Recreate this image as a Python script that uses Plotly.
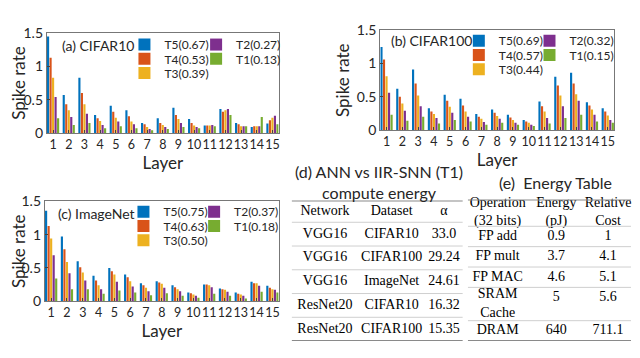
import plotly.graph_objects as go

W, H = 624, 342
OFF = 8  # the page body adds an 8px margin around the plot div

layers = list(range(1, 16))
steps = ["T5", "T4", "T3", "T2", "T1"]
step_colors = ["#0072BD", "#D95319", "#EDB120", "#7E2F8E", "#77AC30"]

# (a) CIFAR10 spike rate per layer
c10_mean = [0.67, 0.53, 0.39, 0.27, 0.13]
c10_t5 = [1.45, 0.57, 0.83, 0.27, 0.41, 0.34, 0.15, 0.22, 0.38, 0.21, 0.11, 0.36, 0.15, 0.09, 0.14]
c10_t4 = [1.13, 0.43, 0.60, 0.22, 0.32, 0.25, 0.13, 0.15, 0.27, 0.15, 0.11, 0.32, 0.13, 0.10, 0.19]
c10_t3 = [0.83, 0.34, 0.43, 0.18, 0.23, 0.17, 0.09, 0.12, 0.21, 0.11, 0.11, 0.34, 0.10, 0.10, 0.23]
c10_t2 = [0.54, 0.24, 0.29, 0.12, 0.17, 0.13, 0.06, 0.09, 0.15, 0.09, 0.12, 0.36, 0.10, 0.10, 0.26]
c10_t1 = [0.22, 0.12, 0.15, 0.07, 0.10, 0.07, 0.04, 0.06, 0.09, 0.07, 0.10, 0.27, 0.10, 0.24, 0.13]

# (b) CIFAR100
c100_mean = [0.69, 0.57, 0.44, 0.32, 0.15]
c100_t5 = [1.25, 0.62, 0.91, 0.33, 0.53, 0.47, 0.24, 0.31, 0.23, 0.15, 0.43, 0.80, 0.86, 0.42, 0.33]
c100_t4 = [1.06, 0.50, 0.70, 0.28, 0.44, 0.37, 0.20, 0.26, 0.19, 0.13, 0.36, 0.67, 0.70, 0.37, 0.28]
c100_t3 = [0.81, 0.40, 0.52, 0.24, 0.35, 0.28, 0.17, 0.21, 0.15, 0.11, 0.28, 0.52, 0.54, 0.31, 0.22]
c100_t2 = [0.56, 0.29, 0.36, 0.18, 0.26, 0.20, 0.12, 0.17, 0.11, 0.08, 0.18, 0.36, 0.44, 0.23, 0.15]
c100_t1 = [0.23, 0.14, 0.20, 0.10, 0.15, 0.13, 0.08, 0.11, 0.08, 0.06, 0.10, 0.18, 0.23, 0.13, 0.11]

# (c) ImageNet
inet_mean = [0.75, 0.63, 0.50, 0.37, 0.18]
inet_t5 = [1.36, 0.97, 0.60, 0.38, 0.50, 0.40, 0.27, 0.30, 0.24, 0.13, 0.25, 0.19, 0.13, 0.29, 0.23]
inet_t4 = [1.13, 0.78, 0.51, 0.31, 0.45, 0.36, 0.24, 0.28, 0.21, 0.12, 0.25, 0.18, 0.11, 0.27, 0.20]
inet_t3 = [0.94, 0.59, 0.43, 0.24, 0.40, 0.30, 0.20, 0.26, 0.18, 0.10, 0.24, 0.17, 0.10, 0.27, 0.18]
inet_t2 = [0.69, 0.42, 0.31, 0.18, 0.29, 0.22, 0.15, 0.20, 0.15, 0.08, 0.21, 0.14, 0.08, 0.23, 0.17]
inet_t1 = [0.34, 0.18, 0.18, 0.11, 0.16, 0.13, 0.09, 0.12, 0.08, 0.05, 0.11, 0.08, 0.04, 0.14, 0.13]

# (d) ANN vs IIR-SNN compute energy
ann_header = ["Network", "Dataset", "α"]
ann_network = ["VGG16", "VGG16", "VGG16", "ResNet20", "ResNet20"]
ann_dataset = ["CIFAR10", "CIFAR100", "ImageNet", "CIFAR10", "CIFAR100"]
ann_alpha = ["33.0", "29.24", "24.61", "16.32", "15.35"]

# (e) energy table
op_header = ["Operation<br>(32 bits)", "Energy<br>(pJ)", "Relative<br>Cost"]
op_name = ["FP add", "FP mult", "FP MAC", "SRAM<br>Cache", "DRAM"]
op_energy = ["0.9", "3.7", "4.6", "5", "640"]
op_relative = ["1", "4.1", "5.1", "5.6", "711.1"]


def px(x):
    return (x - OFF) / W


def py(y):
    return 1 - (y - OFF) / H


SANS = "Lato"
SERIF = "Liberation Serif"
INK = "#262626"

panels = [
    dict(label="(a) CIFAR10", series=[c10_t5, c10_t4, c10_t3, c10_t2, c10_t1], mean=c10_mean,
         box=(45, 278, 25, 130), tag=(58, 38), text_x=(163, 235), rows=(37, 52, 67)),
    dict(label="(b) CIFAR100", series=[c100_t5, c100_t4, c100_t3, c100_t2, c100_t1], mean=c100_mean,
         box=(380, 615, 22, 127), tag=(389, 33), text_x=(499, 570), rows=(33, 48, 63)),
    dict(label="(c) ImageNet", series=[inet_t5, inet_t4, inet_t3, inet_t2, inet_t1], mean=inet_mean,
         box=(43, 278, 202, 307), tag=(54, 215), text_x=(162, 233), rows=(213, 228, 243)),
]

# legend placement: column, row  (T5 T2 / T4 T1 / T3)
slot = {"T5": (0, 0), "T4": (0, 1), "T3": (0, 2), "T2": (1, 0), "T1": (1, 1)}

fig = go.Figure()
layout = {}
annotations = []
legend_count = 0
for i, p in enumerate(panels):
    n = "" if i == 0 else str(i + 1)
    x0, x1, y0, y1 = p["box"]
    for s, vals, col, m in zip(steps, p["series"], step_colors, p["mean"]):
        legend_count += 1
        leg = "legend" if legend_count == 1 else "legend%d" % legend_count
        c, r = slot[s]
        layout[leg] = dict(
            x=px(p["text_x"][c] - 40), y=py(p["rows"][r]), xanchor="left", yanchor="middle",
            bgcolor="rgba(0,0,0,0)", borderwidth=0,
            font=dict(family=SANS, size=12, color=INK), itemclick=False,
        )
        fig.add_trace(go.Bar(
            x=layers, y=vals, name="%s(%.2f)" % (s, m),
            marker=dict(color=col, line=dict(width=0)),
            xaxis="x" + n, yaxis="y" + n, legend=leg,
        ))
    layout["xaxis" + n] = dict(
        domain=[px(x0), px(x1)], anchor="y" + n, range=[0.6, 15.4],
        tickvals=layers, tickangle=0, ticks="inside", ticklen=3, showline=True, mirror=True,
        linecolor="#777", linewidth=1, showgrid=False, zeroline=False,
        tickfont=dict(family=SANS, size=12.5, color=INK),
        title=dict(text="Layer", standoff=0, font=dict(family=SANS, size=17, color=INK)),
    )
    layout["yaxis" + n] = dict(
        domain=[py(y1), py(y0)], anchor="x" + n, range=[0, 1.5],
        tickvals=[0, 0.5, 1, 1.5], ticktext=["0", "0.5", "1", "1.5"],
        ticks="inside", ticklen=3, showline=True, mirror=True,
        linecolor="#777", linewidth=1, showgrid=False, zeroline=False,
        tickfont=dict(family=SANS, size=14, color=INK),
        title=dict(text="Spike rate", standoff=2, font=dict(family=SANS, size=17, color=INK)),
    )
    annotations.append(dict(
        text=p["label"], x=px(p["tag"][0]), y=py(p["tag"][1]), xref="paper", yref="paper",
        xanchor="left", yanchor="middle", showarrow=False,
        font=dict(family=SANS, size=14, color=INK),
    ))

shapes = []


def add_table(ax, header, columns, col_w, box, head_h, line_h, pad):
    """Draw a booktabs-style table as text on its own hidden axes."""
    xa, xb, ya, yb = box
    edges = [0]
    for w in col_w:
        edges.append(edges[-1] + w)
    centers = [(edges[k] + edges[k + 1]) / 2 for k in range(len(col_w))]
    nrows = len(columns[0])
    row_lines = [max(col[r].count("<br>") + 1 for col in columns) for r in range(nrows)]
    tops = [head_h]
    for nl in row_lines:
        tops.append(tops[-1] + nl * line_h + pad)
    xs, ys, txt = [], [], []
    for k, h in enumerate(header):
        xs.append(centers[k])
        ys.append(head_h / 2)
        txt.append(h)
    for k, col in enumerate(columns):
        for r, v in enumerate(col):
            nl = v.count("<br>") + 1
            xs.append(centers[k])
            ys.append(tops[r] + (nl * line_h + pad) / 2)
            txt.append(v)
    fig.add_trace(go.Scatter(
        x=xs, y=ys, text=txt, mode="text", textposition="middle center", cliponaxis=False,
        textfont=dict(family=SERIF, size=14, color="black"),
        xaxis="x" + ax, yaxis="y" + ax, showlegend=False, hoverinfo="skip",
    ))
    layout["xaxis" + ax] = dict(domain=[px(xa), px(xb)], range=[0, edges[-1]], anchor="y" + ax,
                                visible=False, fixedrange=True)
    layout["yaxis" + ax] = dict(domain=[py(yb), py(ya)], range=[tops[-1], 0], anchor="x" + ax,
                                visible=False, fixedrange=True)
    for k, yv in enumerate([0] + tops):
        heavy = k == 0 or k == len(tops)
        shapes.append(dict(
            type="line", xref="x" + ax, yref="y" + ax, x0=0, x1=edges[-1], y0=yv, y1=yv,
            line=dict(color="#8a8a8a" if heavy else "#cfcfcf", width=2 if heavy else 1),
        ))


add_table("4", ann_header, [ann_network, ann_dataset, ann_alpha], [67, 67, 38],
          (291, 463, 201, 349), 23, 16, 9)
add_table("5", op_header, [op_name, op_energy, op_relative], [60, 58, 46],
          (468, 632, 200, 349), 29, 14, 8)

annotations += [
    dict(text="(d) ANN vs IIR-SNN (T1)<br>compute energy", x=px(379), y=py(182),
         xref="paper", yref="paper", xanchor="center", yanchor="middle", showarrow=False,
         font=dict(family=SANS, size=16, color=INK)),
    dict(text="(e)  Energy Table", x=px(556), y=py(182), xref="paper", yref="paper",
         xanchor="center", yanchor="middle", showarrow=False,
         font=dict(family=SANS, size=16, color=INK)),
]

fig.update_layout(
    width=W, height=H, margin=dict(l=0, r=0, t=0, b=0),
    paper_bgcolor="white", plot_bgcolor="white",
    barmode="group", bargap=0.2, bargroupgap=0.15,
    annotations=annotations, shapes=shapes,
    **layout,
)

fig.write_html("out.html")
